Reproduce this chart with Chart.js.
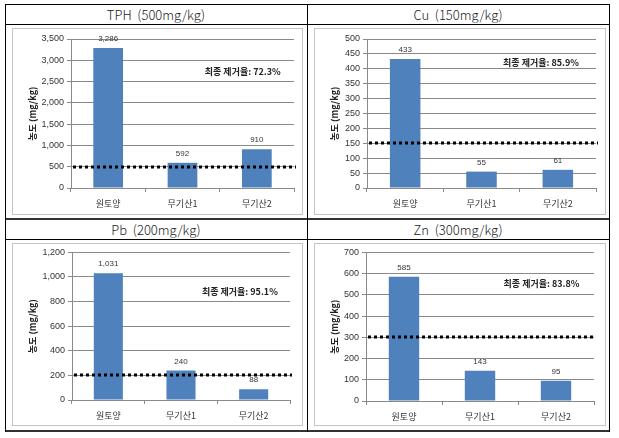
<!DOCTYPE html>
<html>
<head>
<meta charset="utf-8">
<script src="https://cdn.jsdelivr.net/npm/chart.js@4"></script>
<style>
  body { margin: 0; background: #fff; }
  #page { position: relative; width: 619px; height: 438px; }
  .ln { position: absolute; background: #000; }
  .head { position: absolute; height: 20px; line-height: 20px; text-align: center; white-space: pre;
          font: 300 13px "Noto Sans CJK KR", sans-serif; color: #222; }
  .panel { position: absolute; border: 1px solid #c4c4c4; }
  .panel canvas { display: block; }
</style>
</head>
<body>
<div id="page"></div>
<script>
// 데이터
const categories = ['원토양', '무기산1', '무기산2'];
const titles = ['TPH  (500mg/kg)', 'Cu  (150mg/kg)', 'Pb  (200mg/kg)', 'Zn  (300mg/kg)'];
const tphValues = [3286, 592, 910];
const cuValues = [433, 55, 61];
const pbValues = [1031, 240, 88];
const znValues = [585, 143, 95];
const limits = [500, 150, 200, 300];
const yMax = [3500, 500, 1200, 700];
const yStep = [500, 50, 200, 100];
const removalRates = ['72.3%', '85.9%', '95.1%', '83.8%'];
const seriesList = [tphValues, cuValues, pbValues, znValues];

// 배치 (칸 위치, 축 크기)
const panels = [
  { x: 12, y: 28, w: 289, h: 185, yw: 58, top: 10, right: 8, bottom: 26, nx: 0.77, ny: 0.22 },
  { x: 314, y: 28, w: 290, h: 185, yw: 52, top: 10, right: 9, bottom: 26, nx: 0.76, ny: 0.16 },
  { x: 12, y: 243, w: 289, h: 181, yw: 59, top: 8, right: 12, bottom: 25, nx: 0.77, ny: 0.265 },
  { x: 314, y: 243, w: 290, h: 181, yw: 51, top: 8, right: 11, bottom: 24, nx: 0.77, ny: 0.21 }
];
const heads = [
  { x: 5, y: 4, w: 302 }, { x: 307, y: 4, w: 302 },
  { x: 5, y: 219, w: 302 }, { x: 307, y: 219, w: 302 }
];

const page = document.getElementById('page');
function line(x, y, w, h, color) {
  const d = document.createElement('div');
  d.className = 'ln';
  d.style.cssText = `left:${x}px;top:${y}px;width:${w}px;height:${h}px;` + (color ? `background:${color};` : '');
  page.appendChild(d);
}
// 표 테두리
line(5, 4, 605, 1);
line(5, 24, 605, 1);
line(5, 218, 605, 2, '#333');
line(5, 239, 605, 1);
line(5, 430, 605, 2, '#333');
line(5, 4, 1, 428);
line(307, 4, 1, 428);
line(609, 4, 1, 428);

const gridColor = '#8a8a8a';
const tickFont = { family: '"Liberation Sans", Arial, sans-serif', size: 9 };

// 값 라벨, 기준선, 제거율 문구
const extras = {
  id: 'extras',
  afterDatasetsDraw(chart, args, opts) {
    const { ctx, chartArea: a, scales: { y } } = chart;
    const ds = chart.data.datasets[0];
    const meta = chart.getDatasetMeta(0);
    ctx.save();
    ctx.font = '8px "Liberation Sans", Arial, sans-serif';
    ctx.fillStyle = '#333';
    ctx.textAlign = 'center';
    ctx.textBaseline = 'middle';
    meta.data.forEach((bar, i) => {
      ctx.fillText(ds.data[i].toLocaleString('en-US'), bar.x, bar.y - 9);
    });
    const py = Math.round(y.getPixelForValue(opts.limit));
    ctx.beginPath();
    ctx.setLineDash([3, 3]);
    ctx.lineWidth = 3;
    ctx.strokeStyle = '#000';
    ctx.moveTo(a.left + 2, py);
    ctx.lineTo(a.right + 2, py);
    ctx.stroke();
    ctx.setLineDash([]);
    ctx.font = 'bold 9px "Noto Sans CJK KR", sans-serif';
    ctx.fillStyle = '#222';
    ctx.fillText('최종 제거율: ' + opts.rate, a.left + a.width * opts.nx, a.top + a.height * opts.ny);
    ctx.restore();
  }
};

panels.forEach((p, i) => {
  const h = document.createElement('div');
  h.className = 'head';
  h.style.left = heads[i].x + 'px';
  h.style.top = (heads[i].y + 1) + 'px';
  h.style.width = heads[i].w + 'px';
  h.textContent = titles[i];
  page.appendChild(h);

  const box = document.createElement('div');
  box.className = 'panel';
  box.style.left = p.x + 'px';
  box.style.top = p.y + 'px';
  const cv = document.createElement('canvas');
  cv.width = p.w;
  cv.height = p.h;
  cv.style.width = p.w + 'px';
  cv.style.height = p.h + 'px';
  box.appendChild(cv);
  page.appendChild(box);

  new Chart(cv.getContext('2d'), {
    type: 'bar',
    data: {
      labels: categories,
      datasets: [{
        data: seriesList[i],
        backgroundColor: '#4f81bd',
        categoryPercentage: 1,
        barPercentage: 0.4
      }]
    },
    plugins: [extras],
    options: {
      responsive: false,
      animation: false,
      layout: { padding: { top: p.top, right: p.right, left: 0, bottom: 0 } },
      plugins: {
        legend: { display: false },
        tooltip: { enabled: false },
        extras: { limit: limits[i], rate: removalRates[i], nx: p.nx, ny: p.ny }
      },
      scales: {
        x: {
          grid: { drawOnChartArea: false, tickLength: 4, color: gridColor },
          border: { color: gridColor },
          ticks: { font: { family: '"Noto Sans CJK KR", sans-serif', size: 9 }, color: '#333', padding: 6 },
          afterFit: s => { s.height = p.bottom; }
        },
        y: {
          min: 0,
          max: yMax[i],
          ticks: {
            stepSize: yStep[i],
            font: tickFont,
            color: '#333',
            padding: 3,
            callback: v => v.toLocaleString('en-US')
          },
          grid: { color: gridColor, tickLength: 4 },
          border: { color: gridColor },
          title: {
            display: true,
            text: '농도 (mg/kg)',
            color: '#222',
            font: { family: '"Noto Sans CJK KR", sans-serif', size: 9, weight: 'bold' },
            padding: { top: 14, bottom: 0 }
          },
          afterFit: s => { s.width = p.yw; }
        }
      }
    }
  });
});
</script>
</body>
</html>
